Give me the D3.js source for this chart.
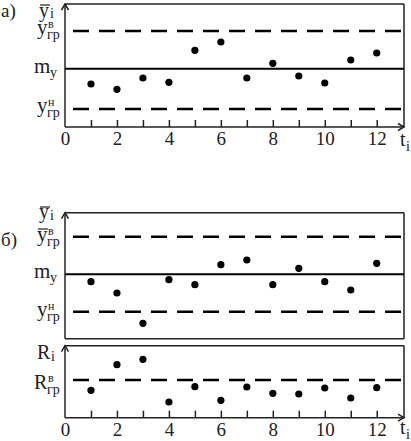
<!DOCTYPE html>
<html><head><meta charset="utf-8">
<script src="https://cdn.jsdelivr.net/npm/d3@7"></script>
<style>
html,body{margin:0;padding:0;background:#fff;}
svg{display:block;}
svg text, svg tspan{font-family:"Liberation Serif","Times New Roman",Tinos,Times !important;}
</style></head>
<body><svg id="c" width="411" height="441" font-family="Liberation Serif"></svg>
<script>
// ---- data ----
const t = [1,2,3,4,5,6,7,8,9,10,11,12];
const tickLabels = [0,2,4,6,8,10,12];
// panel а) mean values
const yA = [4.3,3.77,4.9,4.47,7.67,8.5,4.9,6.37,5.1,4.4,6.7,7.4];
const limitsA = {upper:9.6, center:5.83, lower:1.8};
// panel б) mean values
const yB = [5.7,4.57,1.54,5.9,5.4,7.4,7.87,5.4,7.04,5.7,4.87,7.54];
const limitsB = {upper:10.2, center:6.44, lower:2.7};
// panel б) ranges
const rB = [2.74,5.3,5.84,1.57,3.1,1.74,3.07,2.44,2.37,2.97,1.97,3.0];
const limitR = 3.77;

const FONT = "Liberation Serif";
const svg = d3.select("#c");
const x = d3.scaleLinear().domain([0,13.05]).range([65,404]);
const yAs = d3.scaleLinear().domain([0,12.3]).range([127,4]);
const yBs = d3.scaleLinear().domain([0,12.6]).range([338.7,212.7]);
const yRs = d3.scaleLinear().domain([0,7.2]).range([417.7,345.7]);

function arrowLine(x1,y1,x2,y2,dir){
  svg.append("line").attr("x1",x1).attr("y1",y1).attr("x2",x2).attr("y2",y2)
    .attr("stroke","#222").attr("stroke-width",1.5);
  let p;
  if(dir==="up") p=`M${x2-3.5},${y2+6} L${x2},${y2} L${x2+3.5},${y2+6}`;
  else p=`M${x2-6},${y2-3.5} L${x2},${y2} L${x2-6},${y2+3.5}`;
  svg.append("path").attr("d",p).attr("fill","none").attr("stroke","#222").attr("stroke-width",1.5);
}

function panel(ys, vals, lims, opts){
  const [y0,y1] = ys.range();
  const g = svg.append("g");
  g.append("line").attr("x1",x(0)).attr("x2",x(13.05)).attr("y1",y1).attr("y2",y1).attr("stroke","#222").attr("stroke-width",1.5);
  g.append("line").attr("x1",x(13.05)).attr("x2",x(13.05)).attr("y1",y1).attr("y2",y0).attr("stroke","#222").attr("stroke-width",1.5);
  const dash = (v)=>g.append("line").attr("x1",x(0)+8).attr("x2",x(13.05)).attr("y1",ys(v)).attr("y2",ys(v))
    .attr("stroke","#000").attr("stroke-width",2.5).attr("stroke-dasharray","16,10");
  if(lims.upper!=null) dash(lims.upper);
  if(lims.lower!=null) dash(lims.lower);
  if(lims.center!=null) g.append("line").attr("x1",x(0)).attr("x2",x(13.05)).attr("y1",ys(lims.center)).attr("y2",ys(lims.center))
    .attr("stroke","#000").attr("stroke-width",2);
  if(opts.axis){
    const ax = g.append("g").attr("transform",`translate(0,${y0})`)
      .call(d3.axisBottom(x).tickValues(t).tickSize(-7).tickFormat(""));
    ax.select(".domain").remove();
    ax.selectAll("line").attr("stroke","#222").attr("stroke-width",1.5);
    const lab = g.append("g").attr("transform",`translate(0,${y0})`)
      .call(d3.axisBottom(x).tickValues(tickLabels).tickSize(0).tickPadding(5).tickFormat(d3.format("d")));
    lab.attr("font-family",FONT).attr("font-size",19);
    lab.select(".domain").remove();
    lab.selectAll("text").attr("font-family",FONT).attr("font-size",19).attr("fill","#222");
    arrowLine(x(0),y0,x(13.05),y0,"right");
  } else {
    g.append("line").attr("x1",x(0)).attr("x2",x(13.05)).attr("y1",y0).attr("y2",y0).attr("stroke","#222").attr("stroke-width",1.5);
  }
  arrowLine(x(0),y0,x(0),y1,"up");
  g.selectAll("circle").data(vals).join("circle")
    .attr("cx",(d,i)=>x(t[i])).attr("cy",d=>ys(d)).attr("r",3.6).attr("fill","#000");
}
panel(yAs, yA, limitsA, {axis:true});
panel(yBs, yB, limitsB, {axis:false});
panel(yRs, rB, {upper:limitR}, {axis:true});

// ---- labels: one text element per label, parts as tspans ----
function label(xx, base, parts){
  const tx = svg.append("text").attr("x",xx).attr("y",base)
    .attr("font-family",FONT).attr("fill","#222");
  parts.forEach(([s,dx,dy,size])=>{
    tx.append("tspan").attr("x",xx+dx).attr("y",base+dy).attr("font-size",size).text(s);
  });
  return tx;
}
function over(x1,x2,yy){
  svg.append("line").attr("x1",x1).attr("x2",x2).attr("y1",yy).attr("y2",yy).attr("stroke","#222").attr("stroke-width",1.2);
}
const yLimit = (xx, base, sup) => label(xx, base, [["y",0,0,21],[sup,11,-6,12],["гр",10,5,14]]);

// panel а
label(1, 17, [["а)",0,0,19]]);
label(39, 17, [["y",0,0,20],["i",11,1,14]]); over(40, 50, 5);
yLimit(37, 34, "в");
label(34, 73, [["m",0,0,21],["y",16,4,14]]);
yLimit(37, 112, "н");
label(400, 146, [["t",0,0,20],["i",6,5,14]]);
// panel б
label(1, 246, [["б)",0,0,19]]);
label(39, 218, [["y",0,0,20],["i",11,2,14]]); over(40, 50, 207);
yLimit(37, 241, "в"); over(38, 48, 229);
label(34, 278, [["m",0,0,21],["y",16,4,14]]);
yLimit(37, 316, "н");
label(37, 359, [["R",0,0,20],["i",14,2,14]]);
label(34, 389, [["R",0,0,20],["в",14,-7,12],["гр",13,5,14]]);
label(400, 434, [["t",0,0,20],["i",6,5,14]]);
</script></body></html>
